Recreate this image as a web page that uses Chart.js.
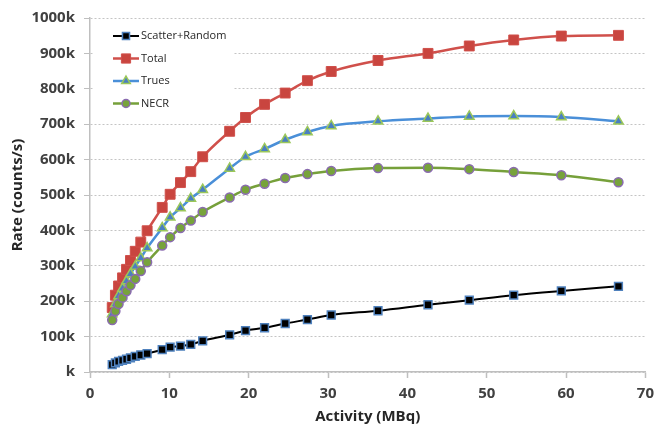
<!DOCTYPE html>
<html>
<head>
<meta charset="utf-8">
<script src="https://cdn.jsdelivr.net/npm/chart.js@4/dist/chart.umd.min.js"></script>
<style>
  html, body { margin: 0; padding: 0; background: #fff; }
  #wrap { width: 661px; height: 430px; }
</style>
</head>
<body>
<div id="wrap"><canvas id="rates" width="661" height="430"></canvas></div>
<script>
// activity (MBq) and count rates (k counts/s)
const activity = [2.8, 3.2, 3.6, 4.1, 4.6, 5.1, 5.7, 6.4, 7.2, 9.1, 10.1, 11.4, 12.7, 14.2, 17.6, 19.6, 22.0, 24.6, 27.4, 30.4, 36.3, 42.6, 47.8, 53.4, 59.4, 66.6];
const scatterRandom = [21, 26, 30, 33, 36, 40, 44, 48, 52, 63, 70, 73, 78, 88, 105, 117, 125, 137, 148, 161, 173, 190, 203, 217, 229, 242];
const total = [182, 217, 243, 266, 290, 315, 341, 367, 399, 465, 502, 535, 566, 608, 680, 719, 756, 788, 823, 849, 880, 900, 921, 938, 949, 951];
const trues = [164, 192, 215, 236, 257, 277, 298, 322, 350, 407, 437, 463, 490, 515, 575, 608, 630, 656, 678, 695, 708, 716, 722, 723, 720, 708];
const necr = [147, 172, 192, 210, 228, 245, 263, 285, 310, 357, 381, 407, 428, 452, 493, 515, 532, 548, 559, 568, 576, 577, 573, 565, 556, 536];

const seriesNames = ["Scatter+Random", "Total", "Trues", "NECR"];
const yTickLabels = ["k", "100k", "200k", "300k", "400k", "500k", "600k", "700k", "800k", "900k", "1000k"];
const xTickLabels = ["0", "10", "20", "30", "40", "50", "60", "70"];

const points = (ys) => ys.map((y, i) => ({ x: activity[i], y: y }));

const tickFont = { family: "'Open Sans'", size: 15, weight: "bold" };
const titleFont = { family: "'Open Sans'", size: 15, weight: "bold" };

// legend box drawn inside the plot, top left
const insideLegend = {
  id: "insideLegend",
  afterDraw(chart) {
    const ctx = chart.ctx;
    const left = chart.chartArea.left;
    ctx.save();
    ctx.fillStyle = "#fff";
    ctx.fillRect(left + 3, 21, 140, 93);
    chart.data.datasets.forEach((ds, i) => {
      const y = 36 + i * 22.5;
      ctx.strokeStyle = ds.borderColor;
      ctx.lineWidth = ds.borderWidth;
      ctx.beginPath();
      ctx.moveTo(left + 23, y);
      ctx.lineTo(left + 49, y);
      ctx.stroke();
      ctx.fillStyle = ds.pointBackgroundColor;
      ctx.strokeStyle = ds.pointBorderColor;
      ctx.lineWidth = ds.pointBorderWidth;
      Chart.helpers.drawPoint(ctx, {
        pointStyle: ds.pointStyle,
        radius: ds.pointRadius - 0.5,
        rotation: 0,
        borderWidth: ds.pointBorderWidth
      }, left + 36, y);
      ctx.fillStyle = "#262626";
      ctx.font = "11px 'Open Sans'";
      ctx.textBaseline = "middle";
      ctx.textAlign = "left";
      ctx.fillText(ds.label, left + 51, y);
    });
    ctx.restore();
  }
};

new Chart(document.getElementById("rates"), {
  type: "scatter",
  data: {
    datasets: [
      {
        label: seriesNames[0],
        data: points(scatterRandom),
        showLine: true,
        borderColor: "#000000",
        borderWidth: 2,
        pointStyle: "rect",
        pointRadius: 5.5,
        pointBackgroundColor: "#000000",
        pointBorderColor: "#4f81bd",
        pointBorderWidth: 1.5,
        order: 3
      },
      {
        label: seriesNames[1],
        data: points(total),
        showLine: true,
        borderColor: "#d0504b",
        borderWidth: 2.5,
        pointStyle: "rect",
        pointRadius: 7,
        pointBackgroundColor: "#c9453f",
        pointBorderColor: "#d0504b",
        pointBorderWidth: 1,
        order: 2
      },
      {
        label: seriesNames[2],
        data: points(trues),
        showLine: true,
        borderColor: "#4a8fd8",
        borderWidth: 2.5,
        pointStyle: "triangle",
        pointRadius: 5.5,
        pointBackgroundColor: "#4a7fc1",
        pointBorderColor: "#9bc75a",
        pointBorderWidth: 1.5,
        order: 1
      },
      {
        label: seriesNames[3],
        data: points(necr),
        showLine: true,
        borderColor: "#76a03a",
        borderWidth: 2.5,
        pointStyle: "circle",
        pointRadius: 4.5,
        pointBackgroundColor: "#77a33b",
        pointBorderColor: "#8a6bb0",
        pointBorderWidth: 1.5,
        order: 0
      }
    ]
  },
  options: {
    responsive: false,
    animation: false,
    cubicInterpolationMode: "monotone",
    layout: { padding: { left: 0, right: 11, top: 15, bottom: 0 } },
    plugins: {
      legend: { display: false },
      tooltip: { enabled: false }
    },
    scales: {
      x: {
        type: "linear",
        min: 0,
        max: 70,
        afterFit: (s) => { s.height = 58; },
        ticks: {
          stepSize: 10,
          padding: 7,
          color: "#404040",
          font: tickFont,
          callback: (v, i) => xTickLabels[i]
        },
        grid: { drawOnChartArea: false, tickLength: 6, tickColor: "#bfbfbf", tickWidth: 1.5 },
        border: { color: "#bfbfbf", width: 1.5 },
        title: { display: true, text: "Activity (MBq)", color: "#262626", font: titleFont, padding: { top: 0, bottom: 4 } }
      },
      y: {
        min: 0,
        max: 1000,
        afterFit: (s) => { s.width = 90; },
        ticks: {
          stepSize: 100,
          padding: 9,
          color: "#404040",
          font: tickFont,
          callback: (v, i) => yTickLabels[i]
        },
        grid: { color: "#c4c4c4", lineWidth: 1, tickLength: 6, tickColor: "#bfbfbf" },
        border: { color: "#bfbfbf", width: 1.5, dash: [2, 2] },
        title: { display: true, text: "Rate (counts/s)", color: "#262626", font: titleFont, padding: { top: 9, bottom: 0 } }
      }
    }
  },
  plugins: [insideLegend]
});
</script>
</body>
</html>
